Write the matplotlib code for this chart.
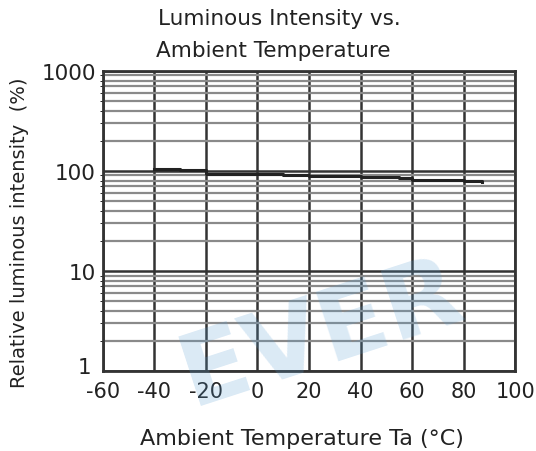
import numpy as np
import matplotlib.pyplot as plt
from matplotlib.transforms import ScaledTranslation

temps = [-40, -30, -20, 0, 10, 20, 40, 55, 60, 80, 87]
intensity = [104, 102, 94, 93, 91, 88, 86, 84, 82, 80, 78]

xticks = [-60, -40, -20, 0, 20, 40, 60, 80, 100]
yticks = [1, 10, 100, 1000]

plt.rcParams['font.family'] = ['DejaVu Sans']

fig = plt.figure(figsize=(5.36, 4.52), dpi=100)
ax = fig.add_axes([0.192, 0.177, 0.769, 0.664])

ax.set_yscale('log')
ax.set_xlim(-60, 100)
ax.set_ylim(1, 1000)
ax.set_xticks(xticks)
ax.set_xticklabels([str(t) for t in xticks], fontsize=15)
ax.set_yticks(yticks)
ax.set_yticklabels([str(t) for t in yticks], fontsize=15.5)
ax.tick_params(length=0, colors='#222222')
ax.tick_params(axis='x', pad=7)
ax.tick_params(axis='y', pad=5)

# nudge the bottom "1" up so it clears "-60"
lab1 = ax.get_yticklabels()[0]
lab1.set_transform(lab1.get_transform() + ScaledTranslation(-3 / 72, 4 / 72, fig.dpi_scale_trans))

minors = [m * 10 ** d for d in range(3) for m in range(2, 10)]
ax.set_yticks(minors, minor=True)
ax.yaxis.set_minor_formatter(plt.NullFormatter())
ax.grid(True, which='minor', axis='y', color='#8a8a8a', linewidth=1.6)
ax.grid(True, which='major', axis='y', color='#333333', linewidth=1.8)
ax.grid(True, which='major', axis='x', color='#333333', linewidth=1.8)
ax.set_axisbelow(True)

for s in ax.spines.values():
    s.set_color('#333333')
    s.set_linewidth(2)

ax.step(temps, intensity, where='post', color='#222222', linewidth=2.2, zorder=3)

ax.set_xlabel('Ambient Temperature Ta (\u00b0C)', fontsize=16, color='#222222', va='top')
ax.xaxis.set_label_coords(0.482, -0.19)
ax.set_ylabel('Relative luminous intensity  (%)', fontsize=14, color='#222222')
ax.yaxis.set_label_coords(-0.18, 0.465)
fig.text(0.522, 0.958, 'Luminous Intensity vs.', ha='center', va='center', fontsize=15.5, color='#222222')
fig.text(0.51, 0.888, 'Ambient Temperature', ha='center', va='center', fontsize=15.5, color='#222222')

# faint watermark
fig.text(0.60, 0.26, 'EVER', ha='center', va='center', fontsize=72, fontweight='bold',
         color='#5a9fd4', alpha=0.22, rotation=18, zorder=10)

fig.savefig('out.png', dpi=100)
